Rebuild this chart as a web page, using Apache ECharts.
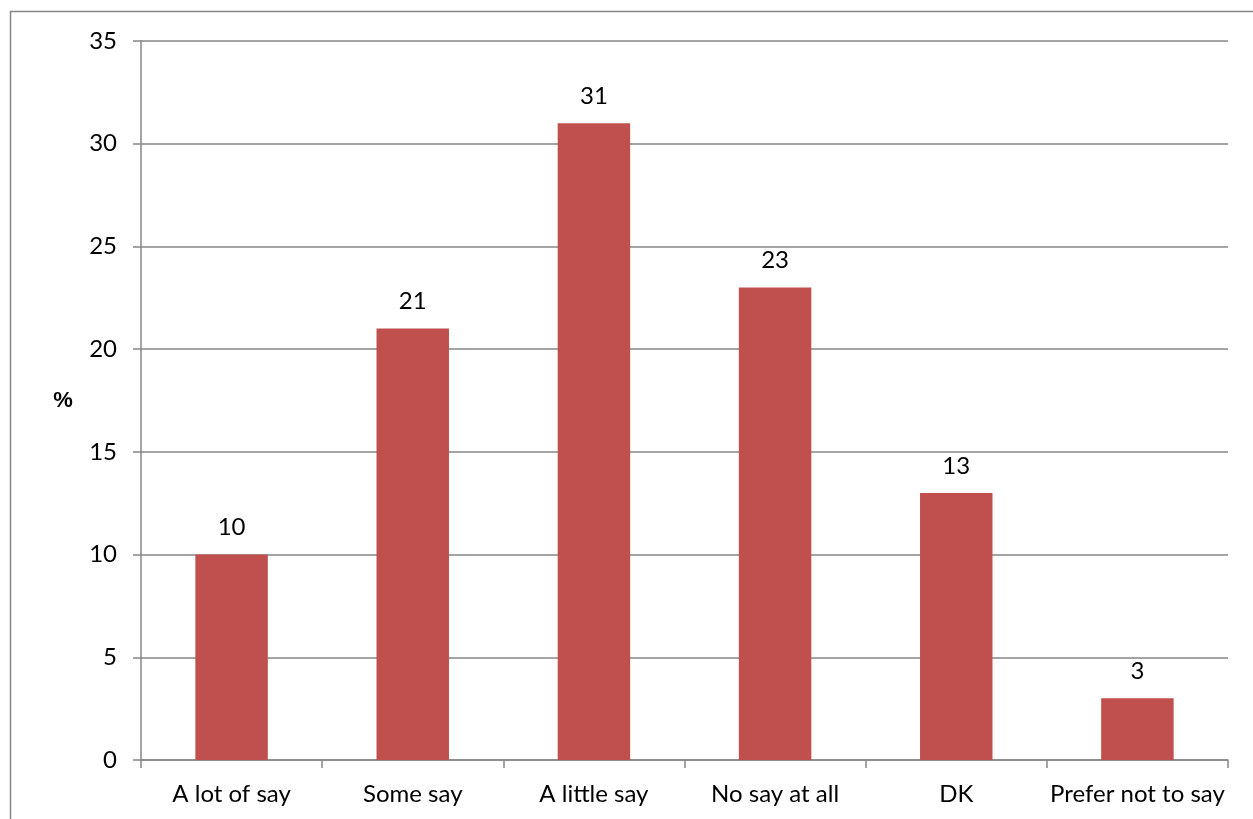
<!DOCTYPE html>
<html>
<head>
<meta charset="utf-8">
<script src="https://cdn.jsdelivr.net/npm/echarts@6/dist/echarts.min.js"></script>
<style>html,body{margin:0;padding:0;background:#fff;}#c{width:1253px;height:819px;}</style>
</head>
<body>
<div id="c"></div>
<script>
const categories = ['A lot of say', 'Some say', 'A little say', 'No say at all', 'DK', 'Prefer not to say'];
const values = [10, 21, 31, 23, 13, 3];
const yTicks = [0, 5, 10, 15, 20, 25, 30, 35];
const yAxisName = '%';

const chart = echarts.init(document.getElementById('c'), null, {renderer: 'canvas'});
const font = 'Lato, "Open Sans", sans-serif';
chart.setOption({
  animation: false,
  backgroundColor: '#fff',
  graphic: [{
    type: 'rect', silent: true, z: -1,
    shape: {x: 10.5, y: 11.5, width: 1300, height: 900},
    style: {fill: 'none', stroke: '#868686', lineWidth: 1.5}
  }],
  grid: {left: 141, right: 25, top: 41, bottom: 59, containLabel: false},
  xAxis: {
    type: 'category', data: categories,
    axisLine: {lineStyle: {color: '#868686', width: 1.5}},
    axisTick: {show: true, length: 8, alignWithLabel: false, lineStyle: {color: '#868686', width: 1.5}},
    axisLabel: {color: '#000', fontSize: 24, fontFamily: font, margin: 22, interval: 0}
  },
  yAxis: {
    type: 'value', min: yTicks[0], max: yTicks[yTicks.length - 1], interval: 5,
    name: yAxisName, nameLocation: 'middle', nameRotate: 0, nameGap: 78,
    nameTextStyle: {color: '#000', fontSize: 22, fontWeight: 'bold', fontFamily: '"Liberation Sans", Arial, sans-serif', align: 'center', verticalAlign: 'middle', padding: [4, 0, 0, 0]},
    axisLine: {show: true, lineStyle: {color: '#868686', width: 1.5}},
    axisTick: {show: true, length: 8, lineStyle: {color: '#868686', width: 1.5}},
    axisLabel: {color: '#000', fontSize: 24, fontFamily: font, margin: 24},
    splitLine: {show: true, lineStyle: {color: '#868686', width: 1.5}}
  },
  series: [{
    type: 'bar', data: values, barCategoryGap: '60%',
    itemStyle: {color: '#C0504D'},
    label: {show: true, position: 'top', distance: 15, color: '#000', fontSize: 24, fontFamily: font}
  }]
});
</script>
</body>
</html>
